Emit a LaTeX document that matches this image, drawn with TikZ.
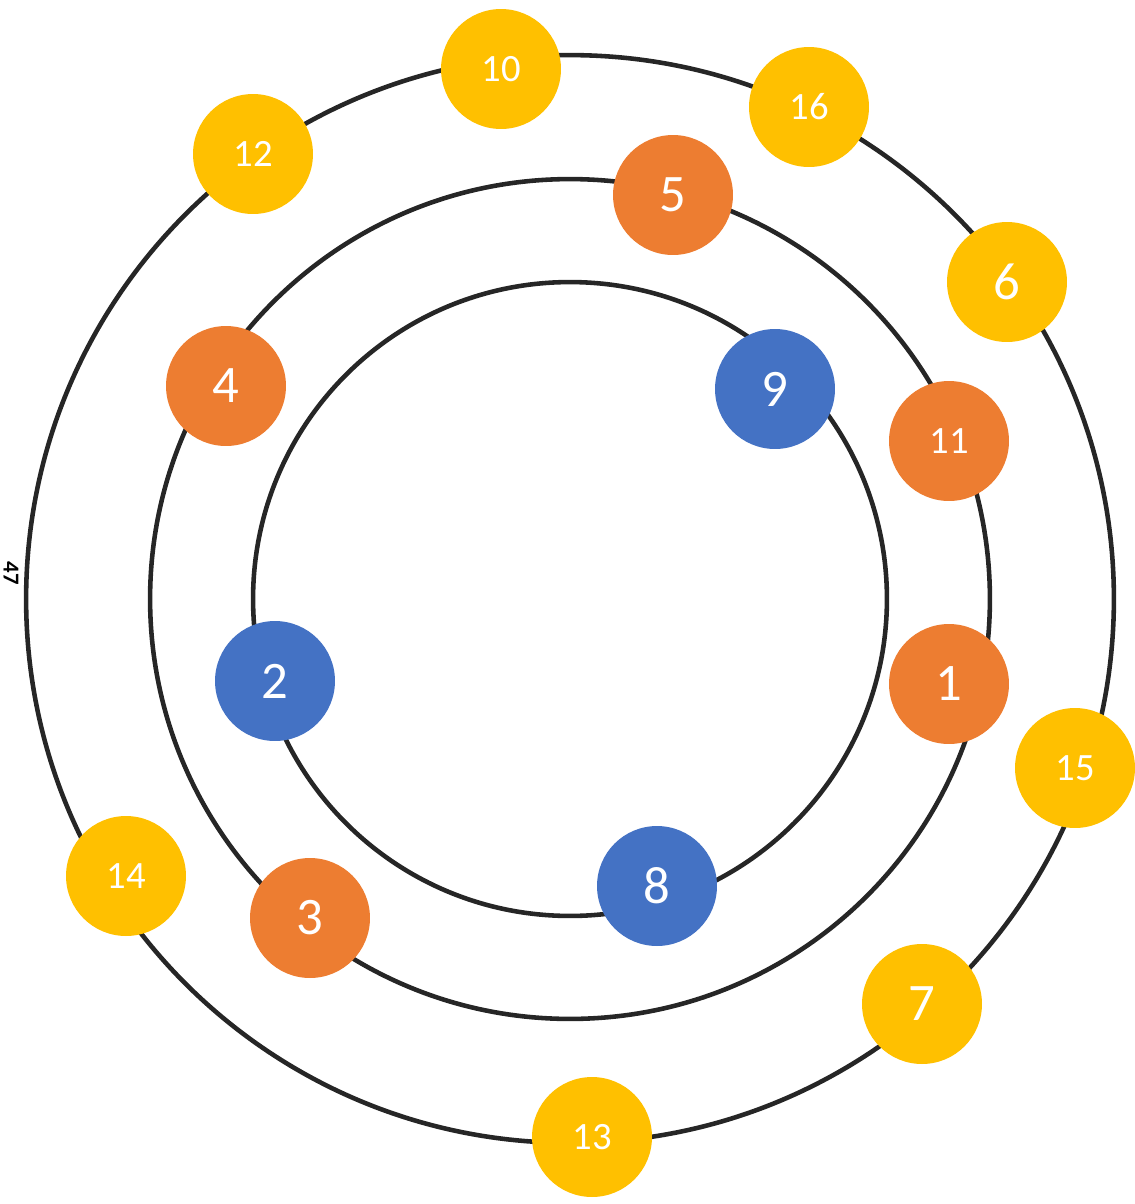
\documentclass[tikz,border=0pt]{standalone}
\usepackage{fontspec}
\setmainfont{Carlito}
\definecolor{ring}{HTML}{262626}
\definecolor{sun}{HTML}{FFC000}
\definecolor{amber}{HTML}{ED7D31}
\definecolor{sea}{HTML}{4472C4}
\begin{document}
\begin{tikzpicture}[x=0.02cm,y=-0.02cm,
		ball/.style={circle,minimum size=2.4cm,inner sep=0pt,text=white},
		big/.style={font=\fontsize{30}{31}\selectfont},
		small/.style={font=\fontsize{22}{23}\selectfont}]
				\useasboundingbox (0,0) rectangle (1134,1204);
				\coordinate (c) at (570,599);
				\draw[ring,line width=2.6pt] (c) circle[radius=6.34cm];
				\draw[ring,line width=2.6pt] (c) circle[radius=8.4cm];
				\draw[ring,line width=2.6pt] (c) circle[radius=10.88cm];
				\node[font=\bfseries\fontsize{13}{13}\selectfont,rotate=-90,inner sep=0pt] (lbl) at (11,573) {47};
				% outer ring
				\node[ball,fill=sun,small] (n10) at (501,69) {10};
				\node[ball,fill=sun,small] (n16) at (809,107) {16};
				\node[ball,fill=sun,big] (n6) at (1007,282) {6};
				\node[ball,fill=sun,small] (n12) at (253,154) {12};
				\node[ball,fill=sun,small] (n15) at (1075,768) {15};
				\node[ball,fill=sun,big] (n7) at (922,1004) {7};
				\node[ball,fill=sun,small] (n13) at (592,1137) {13};
				\node[ball,fill=sun,small] (n14) at (126,876) {14};
				% middle ring
				\node[ball,fill=amber,big] (n5) at (673,195) {5};
				\node[ball,fill=amber,small] (n11) at (949,441) {11};
				\node[ball,fill=amber,big] (n4) at (226,386) {4};
				\node[ball,fill=amber,big] (n1) at (949,684) {1};
				\node[ball,fill=amber,big] (n3) at (310,918) {3};
				% inner ring
				\node[ball,fill=sea,big] (n9) at (775,389) {9};
				\node[ball,fill=sea,big] (n2) at (275,681) {2};
				\node[ball,fill=sea,big] (n8) at (657,886) {8};
			\end{tikzpicture}
\end{document}
